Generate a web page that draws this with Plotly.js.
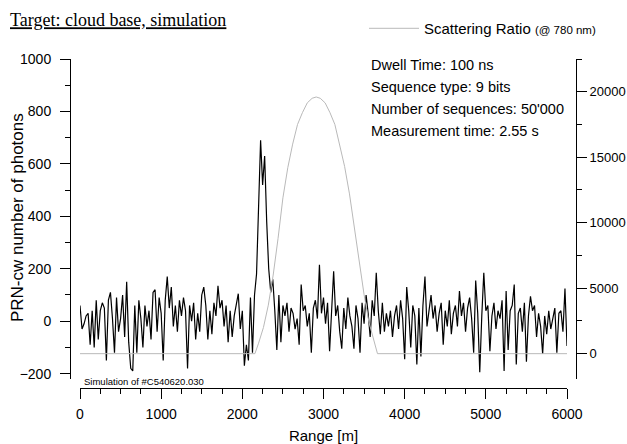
<!DOCTYPE html>
<html><head><meta charset="utf-8">
<script src="https://cdn.plot.ly/plotly-3.0.1.min.js"></script>
<style>html,body{margin:0;padding:0;background:#fff;} #chart{width:627px;height:444px;}</style>
</head><body><div id="chart"></div>
<script>
// Range grid of the photon-count series (m)
const rangeStart = 0;
const rangeStep = 25;
// PRN-cw number of photons (left axis)
const photonCounts = [
  60, -30, -10, 20, 30, -90, 40, -100, 80, -70,
  40, 70, 50, -150, 80, 110, 10, -120, 90, -40,
  10, 100, -60, 150, -80, -180, -190, 60, -120, 80,
  10, -100, 60, -20, 40, -70, 110, 120, -40, 90,
  30, -150, 80, 170, 50, 130, -20, 60, -40, 80,
  20, 90, 40, -180, 60, 0, 70, -70, 30, -40,
  100, 130, 60, -70, 40, -50, 70, 20, 135, 50,
  80, -20, 60, -80, 40, -60, 20, 60, 105, -30,
  40, -170, -90, -150, 90, -120, 100, 180, 430, 690,
  520, 630, 380, 200, 110, 160, 40, -110, 100, -80,
  60, 20, 70, -40, 50, 30, -30, 10, -90, 140,
  40, 60, -20, 30, -120, 50, 80, 10, 215, 30,
  90, -10, 70, -115, 40, 190, 20, 60, -40, -105,
  50, -30, 90, 20, -20, -105, 60, 10, -120, 70,
  -10, 100, 30, -60, 80, 20, 185, 40, -50, 70,
  -40, 30, -20, 40, -60, 20, 60, -30, 80, 10,
  -145, 130, 40, -100, 60, 20, -165, 50, -135, 60,
  170, -20, 40, 100, 10, 60, -40, 30, 70, -90,
  40, -20, 80, -50, 30, 60, -20, 115, 20, 70,
  -40, 50, 90, 10, -120, 155, 30, -195, 20, 185,
  40, 60, -115, 20, 70, -30, 40, 10, 80, -190,
  115, -110, 40, 60, 140, -165, 30, 50, -40, 70,
  -155, 20, 95, 40, 60, -60, 30, -20, -125, 20,
  -50, 40, -30, 10, 50, -120, 30, 40, -40, 125,
  -95
];
const photonRange = photonCounts.map((_, i) => rangeStart + i * rangeStep);

// Scattering ratio (@ 780 nm), right axis
const ratioRange = [0, 2155, 2200, 2260, 2320, 2380, 2440, 2500, 2560, 2620, 2680, 2740, 2800, 2860, 2910,
                    2960, 3020, 3080, 3140, 3200, 3260, 3320, 3380, 3440, 3500, 3560, 3620, 3665, 6000];
const ratioValues = [0, 0, 800, 2000, 3700, 6000, 8800, 11900, 14200, 16000, 17500, 18400, 19150, 19500, 19600,
                     19500, 19150, 18400, 17500, 16000, 14300, 12200, 9600, 6900, 4500, 2400, 900, 0, 0];

const infoLines = ["Dwell Time: 100 ns", "Sequence type: 9 bits", "Number of sequences: 50'000", "Measurement time: 2.55 s"];

const W = 627, H = 444;
const L = 70, R = 51, T = 53, B = 56;
const pw = W - L - R, ph = H - T - B;
const px = x => (x - L) / pw;
const py = y => (H - B - y) / ph;

const SANS = 'Liberation Sans, Arial, sans-serif';
const traces = [
  {x: ratioRange, y: ratioValues, yaxis: 'y2', type: 'scatter', mode: 'lines', line: {color: '#b9b9b9', width: 1},
   name: 'Scattering Ratio <span style="font-size:11.5px">(@ 780 nm)</span>', showlegend: true},
  {x: photonRange, y: photonCounts, type: 'scatter', mode: 'lines', name: 'PRN-cw',
   line: {color: '#000', width: 1.2}, showlegend: false}
];

const axisCommon = {showline: true, linecolor: '#000', linewidth: 1, ticks: 'outside', ticklen: 10, tickwidth: 1,
  tickcolor: '#000', showgrid: false, zeroline: false, automargin: false, fixedrange: true,
  tickfont: {family: SANS, size: 14, color: '#000'}};

const annotations = infoLines.map((t, k) => ({
  text: t, xref: 'paper', yref: 'paper', x: px(369), y: py(59 + k * 22.5), xanchor: 'left', yanchor: 'middle',
  showarrow: false, font: {family: SANS, size: 14.5, color: '#000'}
}));
annotations.push({text: 'Simulation of #C540620.030', xref: 'paper', yref: 'paper', x: px(82), y: py(381),
  xanchor: 'left', yanchor: 'middle', showarrow: false, font: {family: SANS, size: 9.5, color: '#000'}});
// left axis title
annotations.push({text: 'PRN-cw number of photons', xref: 'paper', yref: 'paper', x: px(17), y: py(215),
  xanchor: 'center', yanchor: 'middle', textangle: -90, showarrow: false, font: {family: SANS, size: 17, color: '#000'}});

const layout = {
  width: W, height: H,
  margin: {l: L, r: R, t: T, b: B, pad: 0},
  paper_bgcolor: '#fff', plot_bgcolor: 'rgba(0,0,0,0)',
  font: {family: SANS, size: 14, color: '#000'},
  title: {text: '<u>Target: cloud base, simulation</u>', font: {family: 'Liberation Serif, Times New Roman, serif', size: 18, color: '#000'},
    xref: 'container', yref: 'container', x: 10 / W, xanchor: 'left', y: 1 - 20 / H, yanchor: 'middle'},
  showlegend: true,
  legend: {x: px(364), xanchor: 'left', y: py(22), yanchor: 'middle', bgcolor: 'rgba(0,0,0,0)', borderwidth: 0,
    itemwidth: 50, font: {family: SANS, size: 15, color: '#000'}},
  xaxis: Object.assign({}, axisCommon, {
    domain: [10 / pw, 497 / pw], range: [0, 6000], anchor: 'free', position: 0,
    tick0: 0, dtick: 1000, ticklabelstandoff: 3,
    minor: {tick0: 0, dtick: 250, ticks: 'outside', ticklen: 5, tickcolor: '#000', showgrid: false},
    title: {text: 'Range [m]', font: {family: SANS, size: 15, color: '#000'}, standoff: 12}
  }),
  yaxis: Object.assign({}, axisCommon, {
    domain: [(H - B - 378.7) / ph, 1], range: [-220, 1000], anchor: 'free', position: 0, side: 'left',
    tick0: 0, dtick: 200, ticklabelstandoff: 6,
    minor: {tick0: 0, dtick: 100, ticks: 'outside', ticklen: 5, tickcolor: '#000', showgrid: false}
  }),
  yaxis2: Object.assign({}, axisCommon, {
    overlaying: 'y', range: [-1925, 22500], anchor: 'free', position: 1, side: 'right',
    tick0: 0, dtick: 5000, tickformat: 'd', tickfont: {family: SANS, size: 13, color: '#000'},
    minor: {tick0: 0, dtick: 2500, ticks: 'outside', ticklen: 5, tickcolor: '#000', showgrid: false}
  }),
  annotations: annotations
};

Plotly.newPlot('chart', traces, layout, {staticPlot: true, displayModeBar: false});
</script>
</body></html>
